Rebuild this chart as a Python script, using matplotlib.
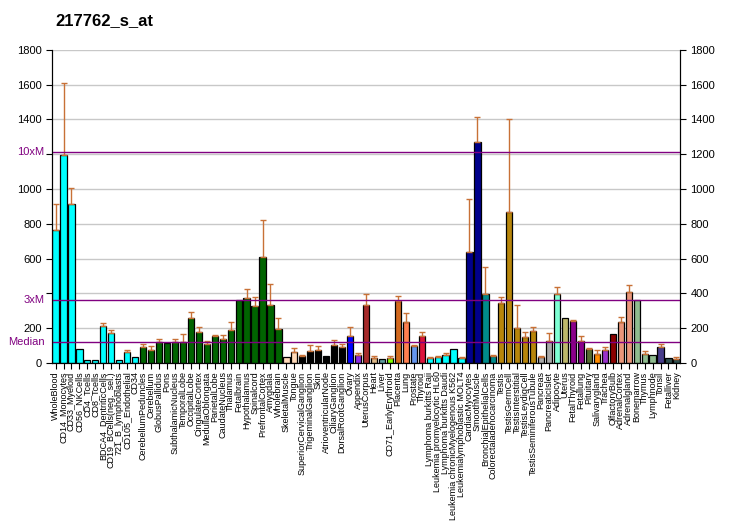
import matplotlib
matplotlib.use("Agg")
import matplotlib.pyplot as plt
import numpy as np

plt.rcParams['font.family'] = ['Liberation Sans', 'DejaVu Sans']

# vevsnavn, verdier og ovre feil (lest av bildet)
labels = ["WholeBlood", "CD14_Monocytes", "CD33_Myeloid", "CD56_NKCells", "CD4_Tcells",
          "CD8_Tcells", "BDCA4_DentriticCells", "CD19_BCells(neg._sel.)", "721_B_lymphoblasts",
          "CD105_Endothelial", "CD34", "CerebellumPeduncles", "Cerebellum", "GlobusPallidus",
          "Pons", "SubthalamicNucleus", "TemporalLobe", "OccipitalLobe", "CingulateCortex",
          "MedullaOblongata", "ParietalLobe", "CaudateNucleus", "Thalamus", "Fetalbrain",
          "Hypothalamus", "Spinalcord", "PrefrontalCortex", "Amygdala", "Wholebrain",
          "SkeletalMuscle", "Tongue", "SuperiorCervicalGanglion", "TrigeminalGanglion", "Skin",
          "AtrioventricularNode", "CiliaryGanglion", "DorsalRootGanglion", "Ovary", "Appendix",
          "UterusCorpus", "Heart", "Liver", "CD71_EarlyErythroid", "Placenta", "Lung",
          "Prostate", "Thyroid", "Lymphoma burkitts Raji", "Leukemia promyelocytic HL60",
          "Lymphoma burkitts Daudi", "Leukemia chronicMyelogenous K562",
          "Leukemialymphoblastic MOLT4", "CardiacMyocytes", "SmoothMuscle",
          "BronchialEpithelialCells", "Colorectaladenocarcinoma", "Testis", "TestisGermCell",
          "TestisInterstitial", "TestisLeydigCell", "TestisSeminiferousTubule", "Pancreas",
          "PancreaticIslet", "Adipocyte", "Uterus", "FetalThyroid", "Fetallung", "Pituitary",
          "Salivarygland", "Trachea", "OlfactoryBulb", "AdrenalCortex", "Adrenalgland",
          "Bonemarrow", "Thymus", "Lymphnode", "Tonsil", "Fetalliver", "Kidney"]

values = [762, 1196, 916, 82, 19, 19, 211, 173, 19, 65, 34,
          93, 76, 122, 118, 122, 122, 257, 179, 110, 156, 139, 190, 362, 371, 328, 608, 333, 196,
          36, 65, 42, 67, 76, 42, 105, 93, 156, 48, 333,
          29, 23, 29, 356, 235, 99, 155, 29, 34, 46, 80, 29,
          637, 1273, 396, 40, 344, 866, 201, 149, 184, 34, 126, 396, 258, 241, 126,
          82, 52, 75, 166, 235, 407, 361, 52, 46, 92, 29, 23]

err_top = [914, 1609, 1006, 82, 19, 19, 229, 189, 19, 74, 34,
           109, 97, 137, 118, 137, 166, 291, 206, 126, 160, 160, 234, 362, 423, 377, 823, 457, 257,
           36, 86, 46, 103, 97, 42, 131, 109, 206, 57, 396,
           40, 23, 40, 386, 287, 105, 180, 34, 40, 57, 80, 34,
           941, 1412, 551, 46, 379, 1400, 333, 178, 206, 40, 172, 436, 258, 247, 155,
           86, 75, 92, 166, 264, 447, 361, 69, 46, 109, 29, 34]

colors = (["#00FFFF"] * 11 + ["#006400"] * 18 + ["#FFDAB9"] * 2 + ["#000000"] * 6 +
          ["#0000FF", "#8A2BE2", "#A52A2A", "#DEB887", "#5F9EA0", "#7FFF00", "#D2691E",
           "#FF7F50", "#6495ED", "#DC143C"] + ["#00FFFF"] * 5 + ["#00008B"] * 2 +
          ["#008B8B"] * 2 + ["#B8860B"] * 5 + ["#A9A9A9"] * 2 +
          ["#7FFFD4", "#BDB76B", "#8B008B", "#8B008B", "#556B2F", "#FF8C00", "#9932CC",
           "#8B0000", "#E9967A", "#E9967A"] + ["#8FBC8F"] * 3 + ["#483D8B"] + ["#2F4F4F"] * 2)

median = 121.5

x = np.arange(len(labels))
vals = np.array(values)
upper = np.array(err_top) - vals

fig = plt.figure(figsize=(7.32, 5.30), dpi=100)
ax = fig.add_axes([0.071, 0.315, 0.858, 0.591])

ax.set_axisbelow(True)
ax.yaxis.grid(True, color="#C8C8C8", linewidth=1)
ax.bar(x, vals, width=0.78, color=colors, edgecolor="black", linewidth=0.9, zorder=2)
mask = upper > 0
ax.errorbar(x[mask], vals[mask], yerr=[np.zeros(mask.sum()), upper[mask]], fmt="none",
            ecolor="#C87137", elinewidth=1, capsize=2.5, capthick=1, zorder=3)

for lvl in [median, 3 * median, 10 * median]:
    ax.axhline(lvl, color="#800080", linewidth=1, zorder=4)

ax.set_xlim(-0.45, len(labels) - 0.55)
ax.set_ylim(0, 1800)
ax.set_yticks(range(0, 1801, 200))
ax.set_yticklabels(["" if t in (400, 1200) else str(t) for t in range(0, 1801, 200)], fontsize=8)
ax.set_xticks(x)
ax.set_xticklabels(labels, rotation=90, fontsize=6.5)
ax.tick_params(axis="x", length=4, pad=2)
ax.tick_params(axis="y", length=4)
ax.spines["top"].set_visible(False)

# purple tekst for median-linjene
for lvl, txt in [(median, "Median"), (3 * median, "3xM"), (10 * median, "10xM")]:
    ax.text(-0.012, lvl, txt, transform=ax.get_yaxis_transform(), ha="right", va="center",
            color="#800080", fontsize=8)

ax2 = ax.twinx()
ax2.set_ylim(0, 1800)
ax2.set_yticks(range(0, 1801, 200))
ax2.tick_params(axis="y", length=4, labelsize=8)
ax2.spines["top"].set_visible(False)

fig.text(0.075, 0.962, "217762_s_at", fontsize=12, fontweight="bold", va="center")

fig.savefig("out.png", dpi=100)
